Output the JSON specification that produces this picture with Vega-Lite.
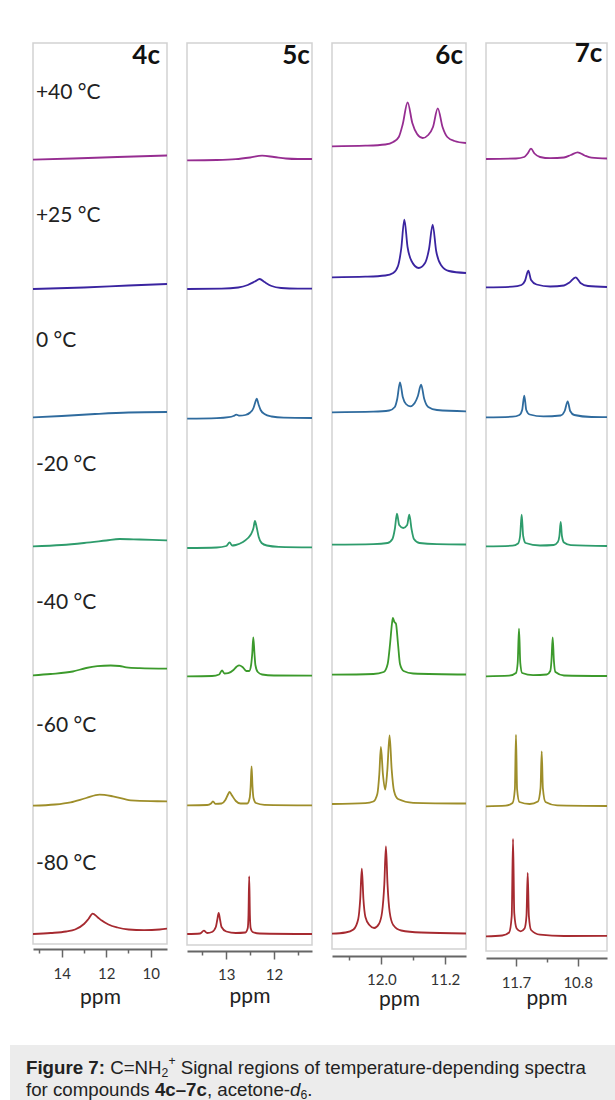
{
"$schema": "https://vega.github.io/schema/vega-lite/v6.json",
"padding": {"left": 10, "top": 40, "right": 0, "bottom": 0},
"background": "white",
"config": {
  "view": {"stroke": "#d2d2d2", "strokeWidth": 1.5},
  "font": "Lato",
  "axis": {"domainColor": "#666", "domainWidth": 2, "tickColor": "#666", "tickWidth": 1.5, "labelFont": "Lato", "labelFontSize": 15, "labelColor": "#333", "titleFont": "Lato", "titleFontSize": 21, "titleFontWeight": "normal", "titleColor": "#222", "grid": false, "labelOverlap": false, "labelFlush": false, "tickCount": 12}
},
"datasets": {
  "lab": [
    {"lab": "+40 °C", "ly": 851}, {"lab": "+25 °C", "ly": 727.7}, {"lab": "0 °C", "ly": 602.7}, {"lab": "-20 °C", "ly": 479.3},
    {"lab": "-40 °C", "ly": 341}, {"lab": "-60 °C", "ly": 217.7}, {"lab": "-80 °C", "ly": 80.3}
  ],
  "d4": [
    {"T":"+40","ppm":15.29,"y":784.3},{"T":"+40","ppm":13.5,"y":785.5},{"T":"+40","ppm":11.5,"y":787},{"T":"+40","ppm":9.27,"y":788.5},
    {"T":"+25","ppm":15.29,"y":655},{"T":"+25","ppm":13,"y":656.5},{"T":"+25","ppm":11,"y":658.5},{"T":"+25","ppm":9.27,"y":660},
    {"T":"0","ppm":15.29,"y":526.7},{"T":"0","ppm":14,"y":528},{"T":"0","ppm":12.5,"y":530},{"T":"0","ppm":11,"y":531.5},{"T":"0","ppm":9.27,"y":532},
    {"T":"-20","ppm":15.29,"y":397.7},{"T":"-20","ppm":14,"y":399},{"T":"-20","ppm":13,"y":401},{"T":"-20","ppm":12,"y":403.5},{"T":"-20","ppm":11.4,"y":405},{"T":"-20","ppm":10.5,"y":404.5},{"T":"-20","ppm":9.27,"y":403.7},
    {"T":"-40","ppm":15.29,"y":268.7},{"T":"-40","ppm":14.5,"y":270},{"T":"-40","ppm":13.5,"y":272.5},{"T":"-40","ppm":12.9,"y":276},{"T":"-40","ppm":12.4,"y":277.8},{"T":"-40","ppm":11.8,"y":278.5},{"T":"-40","ppm":11.4,"y":278},{"T":"-40","ppm":11.1,"y":276.6},{"T":"-40","ppm":10.5,"y":275.8},{"T":"-40","ppm":9.27,"y":275.3},
    {"T":"-60","ppm":15.29,"y":138.3},{"T":"-60","ppm":14.3,"y":139.5},{"T":"-60","ppm":13.6,"y":141.7},{"T":"-60","ppm":12.9,"y":146},{"T":"-60","ppm":12.3,"y":149.3},{"T":"-60","ppm":11.7,"y":147.7},{"T":"-60","ppm":10.9,"y":143.7},{"T":"-60","ppm":10,"y":142.8},{"T":"-60","ppm":9.27,"y":142.7},
    {"T":"-80","ppm":15.29,"y":10},{"T":"-80","ppm":14.5,"y":11},{"T":"-80","ppm":13.8,"y":12.5},{"T":"-80","ppm":13.4,"y":14.5},{"T":"-80","ppm":13.0,"y":20},{"T":"-80","ppm":12.8,"y":25},{"T":"-80","ppm":12.61,"y":30.3},{"T":"-80","ppm":12.4,"y":27},{"T":"-80","ppm":12.2,"y":23.5},{"T":"-80","ppm":11.9,"y":19.5},{"T":"-80","ppm":11.5,"y":16.5},{"T":"-80","ppm":11,"y":14.5},{"T":"-80","ppm":10.3,"y":13.8},{"T":"-80","ppm":9.6,"y":14.5},{"T":"-80","ppm":9.27,"y":15.3}
  ],
  "d5": [
    {"T":"+40","ppm":13.82,"y":784.7},{"T":"+40","ppm":13.2,"y":785},{"T":"+40","ppm":12.8,"y":785.8},{"T":"+40","ppm":12.5,"y":787.5},{"T":"+40","ppm":12.25,"y":789.3},{"T":"+40","ppm":12.0,"y":788},{"T":"+40","ppm":11.75,"y":786.5},{"T":"+40","ppm":11.5,"y":786},{"T":"+40","ppm":11.2,"y":786},
    {"T":"+25","ppm":13.82,"y":656},{"T":"+25","ppm":13.1,"y":656.3},{"T":"+25","ppm":12.75,"y":657.5},{"T":"+25","ppm":12.55,"y":660},{"T":"+25","ppm":12.4,"y":663.5},{"T":"+25","ppm":12.3,"y":666},{"T":"+25","ppm":12.2,"y":663},{"T":"+25","ppm":12.05,"y":659},{"T":"+25","ppm":11.85,"y":657},{"T":"+25","ppm":11.5,"y":656.3},{"T":"+25","ppm":11.2,"y":656.3},
    {"T":"0","ppm":13.82,"y":526.3},{"T":"0","ppm":13.2,"y":526.8},{"T":"0","ppm":12.95,"y":527.8},{"T":"0","ppm":12.85,"y":529},{"T":"0","ppm":12.79,"y":530.3},{"T":"0","ppm":12.72,"y":529.3},{"T":"0","ppm":12.6,"y":530},{"T":"0","ppm":12.5,"y":532.5},{"T":"0","ppm":12.43,"y":537},{"T":"0","ppm":12.4,"y":541.5},{"T":"0","ppm":12.363,"y":546.3},{"T":"0","ppm":12.32,"y":540},{"T":"0","ppm":12.28,"y":535},{"T":"0","ppm":12.2,"y":531},{"T":"0","ppm":12.05,"y":528.5},{"T":"0","ppm":11.8,"y":527.3},{"T":"0","ppm":11.2,"y":527},
    {"T":"-20","ppm":13.82,"y":397},{"T":"-20","ppm":13.2,"y":397.5},{"T":"-20","ppm":13.0,"y":399},{"T":"-20","ppm":12.93,"y":402.7},{"T":"-20","ppm":12.88,"y":399.5},{"T":"-20","ppm":12.8,"y":400},{"T":"-20","ppm":12.65,"y":403},{"T":"-20","ppm":12.545,"y":407},{"T":"-20","ppm":12.48,"y":411},{"T":"-20","ppm":12.43,"y":417},{"T":"-20","ppm":12.40,"y":424},{"T":"-20","ppm":12.36,"y":417},{"T":"-20","ppm":12.32,"y":408},{"T":"-20","ppm":12.26,"y":402},{"T":"-20","ppm":12.15,"y":399.5},{"T":"-20","ppm":11.9,"y":398.2},{"T":"-20","ppm":11.2,"y":397.7},
    {"T":"-40","ppm":13.82,"y":268.7},{"T":"-40","ppm":13.3,"y":269},{"T":"-40","ppm":13.15,"y":270.5},{"T":"-40","ppm":13.09,"y":274.7},{"T":"-40","ppm":13.04,"y":271.5},{"T":"-40","ppm":12.96,"y":271.8},{"T":"-40","ppm":12.85,"y":275},{"T":"-40","ppm":12.78,"y":278.5},{"T":"-40","ppm":12.73,"y":279.7},{"T":"-40","ppm":12.66,"y":278},{"T":"-40","ppm":12.58,"y":274},{"T":"-40","ppm":12.52,"y":274},{"T":"-40","ppm":12.48,"y":280},{"T":"-40","ppm":12.455,"y":292},{"T":"-40","ppm":12.434,"y":307.7},{"T":"-40","ppm":12.41,"y":292},{"T":"-40","ppm":12.39,"y":280},{"T":"-40","ppm":12.34,"y":273},{"T":"-40","ppm":12.25,"y":270.5},{"T":"-40","ppm":12.0,"y":269.5},{"T":"-40","ppm":11.2,"y":269.3},
    {"T":"-60","ppm":13.82,"y":139.7},{"T":"-60","ppm":13.4,"y":140},{"T":"-60","ppm":13.32,"y":141.5},{"T":"-60","ppm":13.28,"y":143.7},{"T":"-60","ppm":13.23,"y":141.2},{"T":"-60","ppm":13.1,"y":141.5},{"T":"-60","ppm":13.02,"y":145},{"T":"-60","ppm":12.97,"y":150},{"T":"-60","ppm":12.93,"y":153},{"T":"-60","ppm":12.88,"y":149.5},{"T":"-60","ppm":12.8,"y":144},{"T":"-60","ppm":12.7,"y":141.5},{"T":"-60","ppm":12.56,"y":141.5},{"T":"-60","ppm":12.51,"y":147},{"T":"-60","ppm":12.49,"y":158},{"T":"-60","ppm":12.47,"y":178.7},{"T":"-60","ppm":12.45,"y":158},{"T":"-60","ppm":12.43,"y":147},{"T":"-60","ppm":12.38,"y":142},{"T":"-60","ppm":12.2,"y":140.2},{"T":"-60","ppm":11.2,"y":139.7},
    {"T":"-80","ppm":13.82,"y":11},{"T":"-80","ppm":13.55,"y":11.5},{"T":"-80","ppm":13.47,"y":14.3},{"T":"-80","ppm":13.40,"y":12},{"T":"-80","ppm":13.3,"y":13},{"T":"-80","ppm":13.22,"y":18},{"T":"-80","ppm":13.19,"y":25},{"T":"-80","ppm":13.16,"y":32},{"T":"-80","ppm":13.13,"y":25},{"T":"-80","ppm":13.10,"y":18},{"T":"-80","ppm":13.0,"y":13.5},{"T":"-80","ppm":12.8,"y":12},{"T":"-80","ppm":12.6,"y":12.5},{"T":"-80","ppm":12.55,"y":17},{"T":"-80","ppm":12.535,"y":30},{"T":"-80","ppm":12.52,"y":68.7},{"T":"-80","ppm":12.505,"y":30},{"T":"-80","ppm":12.49,"y":17},{"T":"-80","ppm":12.45,"y":13},{"T":"-80","ppm":12.3,"y":11.5},{"T":"-80","ppm":11.2,"y":11}
  ],
  "d6": [
    {"T":"+40","ppm":12.62,"y":802.7},{"T":"+40","ppm":12.2,"y":803.3},{"T":"+40","ppm":11.95,"y":804.5},{"T":"+40","ppm":11.85,"y":807},{"T":"+40","ppm":11.78,"y":812},{"T":"+40","ppm":11.73,"y":825},{"T":"+40","ppm":11.669,"y":846.7},{"T":"+40","ppm":11.61,"y":826},{"T":"+40","ppm":11.55,"y":815},{"T":"+40","ppm":11.48,"y":811},{"T":"+40","ppm":11.41,"y":814},{"T":"+40","ppm":11.35,"y":822},{"T":"+40","ppm":11.29,"y":840.7},{"T":"+40","ppm":11.23,"y":822},{"T":"+40","ppm":11.17,"y":812},{"T":"+40","ppm":11.08,"y":808},{"T":"+40","ppm":10.935,"y":806},
    {"T":"+25","ppm":12.62,"y":671.7},{"T":"+25","ppm":12.2,"y":672.3},{"T":"+25","ppm":11.95,"y":673.5},{"T":"+25","ppm":11.85,"y":676},{"T":"+25","ppm":11.79,"y":683},{"T":"+25","ppm":11.75,"y":700},{"T":"+25","ppm":11.71,"y":729.3},{"T":"+25","ppm":11.67,"y":702},{"T":"+25","ppm":11.62,"y":688},{"T":"+25","ppm":11.53,"y":681},{"T":"+25","ppm":11.45,"y":686},{"T":"+25","ppm":11.40,"y":700},{"T":"+25","ppm":11.354,"y":724.3},{"T":"+25","ppm":11.31,"y":698},{"T":"+25","ppm":11.25,"y":684},{"T":"+25","ppm":11.15,"y":678},{"T":"+25","ppm":10.935,"y":676},
    {"T":"0","ppm":12.62,"y":536.7},{"T":"0","ppm":12.1,"y":537.3},{"T":"0","ppm":11.9,"y":538.5},{"T":"0","ppm":11.83,"y":542},{"T":"0","ppm":11.80,"y":550},{"T":"0","ppm":11.765,"y":566.7},{"T":"0","ppm":11.73,"y":552},{"T":"0","ppm":11.69,"y":545},{"T":"0","ppm":11.635,"y":542.7},{"T":"0","ppm":11.58,"y":546},{"T":"0","ppm":11.54,"y":553},{"T":"0","ppm":11.50,"y":564.3},{"T":"0","ppm":11.46,"y":550},{"T":"0","ppm":11.41,"y":542},{"T":"0","ppm":11.3,"y":539},{"T":"0","ppm":10.935,"y":537.7},
    {"T":"-20","ppm":12.62,"y":404.3},{"T":"-20","ppm":12.1,"y":404.8},{"T":"-20","ppm":11.92,"y":406},{"T":"-20","ppm":11.86,"y":410},{"T":"-20","ppm":11.83,"y":420},{"T":"-20","ppm":11.803,"y":435.3},{"T":"-20","ppm":11.775,"y":424},{"T":"-20","ppm":11.724,"y":421},{"T":"-20","ppm":11.675,"y":424},{"T":"-20","ppm":11.648,"y":434.3},{"T":"-20","ppm":11.62,"y":420},{"T":"-20","ppm":11.59,"y":410},{"T":"-20","ppm":11.52,"y":406},{"T":"-20","ppm":11.3,"y":404.8},{"T":"-20","ppm":10.935,"y":404.5},
    {"T":"-40","ppm":12.62,"y":274.3},{"T":"-40","ppm":12.1,"y":275},{"T":"-40","ppm":11.97,"y":277},{"T":"-40","ppm":11.92,"y":285},{"T":"-40","ppm":11.89,"y":305},{"T":"-40","ppm":11.865,"y":326},{"T":"-40","ppm":11.854,"y":331},{"T":"-40","ppm":11.835,"y":327},{"T":"-40","ppm":11.816,"y":325.3},{"T":"-40","ppm":11.79,"y":305},{"T":"-40","ppm":11.765,"y":285},{"T":"-40","ppm":11.72,"y":278},{"T":"-40","ppm":11.6,"y":275.5},{"T":"-40","ppm":10.935,"y":274.5},
    {"T":"-60","ppm":12.62,"y":145},{"T":"-60","ppm":12.2,"y":145.8},{"T":"-60","ppm":12.1,"y":147.5},{"T":"-60","ppm":12.05,"y":155},{"T":"-60","ppm":12.025,"y":175},{"T":"-60","ppm":12.005,"y":202},{"T":"-60","ppm":11.98,"y":175},{"T":"-60","ppm":11.951,"y":159.3},{"T":"-60","ppm":11.925,"y":178},{"T":"-60","ppm":11.896,"y":213.7},{"T":"-60","ppm":11.87,"y":180},{"T":"-60","ppm":11.84,"y":158},{"T":"-60","ppm":11.79,"y":150},{"T":"-60","ppm":11.6,"y":146.2},{"T":"-60","ppm":10.935,"y":145.5},
    {"T":"-80","ppm":12.62,"y":15.3},{"T":"-80","ppm":12.45,"y":16.5},{"T":"-80","ppm":12.35,"y":19.5},{"T":"-80","ppm":12.29,"y":30},{"T":"-80","ppm":12.265,"y":50},{"T":"-80","ppm":12.245,"y":80.3},{"T":"-80","ppm":12.225,"y":50},{"T":"-80","ppm":12.2,"y":32},{"T":"-80","ppm":12.15,"y":24},{"T":"-80","ppm":12.09,"y":21},{"T":"-80","ppm":12.03,"y":25},{"T":"-80","ppm":11.99,"y":37},{"T":"-80","ppm":11.962,"y":65},{"T":"-80","ppm":11.942,"y":102.7},{"T":"-80","ppm":11.922,"y":65},{"T":"-80","ppm":11.895,"y":37},{"T":"-80","ppm":11.85,"y":24},{"T":"-80","ppm":11.75,"y":18.5},{"T":"-80","ppm":11.5,"y":16.5},{"T":"-80","ppm":10.935,"y":15.5}
  ],
  "d7": [
    {"T":"+40","ppm":12.137,"y":792},{"T":"+40","ppm":11.7,"y":792.5},{"T":"+40","ppm":11.58,"y":794},{"T":"+40","ppm":11.53,"y":797.5},{"T":"+40","ppm":11.481,"y":802.3},{"T":"+40","ppm":11.43,"y":797.5},{"T":"+40","ppm":11.35,"y":794},{"T":"+40","ppm":11.2,"y":792.8},{"T":"+40","ppm":11.0,"y":793.5},{"T":"+40","ppm":10.9,"y":796},{"T":"+40","ppm":10.8,"y":798.7},{"T":"+40","ppm":10.7,"y":795.5},{"T":"+40","ppm":10.6,"y":793.3},{"T":"+40","ppm":10.373,"y":792.5},
    {"T":"+25","ppm":12.137,"y":663.7},{"T":"+25","ppm":11.75,"y":664.3},{"T":"+25","ppm":11.62,"y":666},{"T":"+25","ppm":11.57,"y":670},{"T":"+25","ppm":11.52,"y":680.3},{"T":"+25","ppm":11.48,"y":671},{"T":"+25","ppm":11.4,"y":666.5},{"T":"+25","ppm":11.2,"y":664.5},{"T":"+25","ppm":11.0,"y":665.5},{"T":"+25","ppm":10.92,"y":668.5},{"T":"+25","ppm":10.83,"y":673.7},{"T":"+25","ppm":10.76,"y":668},{"T":"+25","ppm":10.65,"y":665},{"T":"+25","ppm":10.373,"y":664},
    {"T":"0","ppm":12.137,"y":533.7},{"T":"0","ppm":11.75,"y":534.3},{"T":"0","ppm":11.65,"y":536},{"T":"0","ppm":11.61,"y":541},{"T":"0","ppm":11.579,"y":555.3},{"T":"0","ppm":11.55,"y":541},{"T":"0","ppm":11.5,"y":536.5},{"T":"0","ppm":11.3,"y":534.6},{"T":"0","ppm":11.05,"y":535.5},{"T":"0","ppm":10.99,"y":540},{"T":"0","ppm":10.946,"y":549.7},{"T":"0","ppm":10.91,"y":540},{"T":"0","ppm":10.85,"y":536},{"T":"0","ppm":10.6,"y":534},{"T":"0","ppm":10.373,"y":533.8},
    {"T":"-20","ppm":12.137,"y":404.7},{"T":"-20","ppm":11.75,"y":405.3},{"T":"-20","ppm":11.67,"y":407.5},{"T":"-20","ppm":11.64,"y":415},{"T":"-20","ppm":11.617,"y":436.3},{"T":"-20","ppm":11.595,"y":415},{"T":"-20","ppm":11.56,"y":408},{"T":"-20","ppm":11.35,"y":405.5},{"T":"-20","ppm":11.15,"y":406},{"T":"-20","ppm":11.09,"y":409},{"T":"-20","ppm":11.067,"y":415},{"T":"-20","ppm":11.048,"y":429},{"T":"-20","ppm":11.03,"y":415},{"T":"-20","ppm":11.0,"y":408.5},{"T":"-20","ppm":10.9,"y":405.8},{"T":"-20","ppm":10.373,"y":405},
    {"T":"-40","ppm":12.137,"y":274.7},{"T":"-40","ppm":11.8,"y":275.3},{"T":"-40","ppm":11.7,"y":278},{"T":"-40","ppm":11.675,"y":288},{"T":"-40","ppm":11.656,"y":322.3},{"T":"-40","ppm":11.637,"y":288},{"T":"-40","ppm":11.61,"y":278},{"T":"-40","ppm":11.45,"y":275.8},{"T":"-40","ppm":11.25,"y":276.5},{"T":"-40","ppm":11.2,"y":280},{"T":"-40","ppm":11.183,"y":290},{"T":"-40","ppm":11.165,"y":313.7},{"T":"-40","ppm":11.147,"y":290},{"T":"-40","ppm":11.125,"y":279},{"T":"-40","ppm":11.0,"y":275.5},{"T":"-40","ppm":10.373,"y":275},
    {"T":"-60","ppm":12.137,"y":144.7},{"T":"-60","ppm":11.85,"y":145.3},{"T":"-60","ppm":11.75,"y":148},{"T":"-60","ppm":11.716,"y":162},{"T":"-60","ppm":11.70,"y":216.3},{"T":"-60","ppm":11.684,"y":162},{"T":"-60","ppm":11.65,"y":149},{"T":"-60","ppm":11.5,"y":147},{"T":"-60","ppm":11.38,"y":149.5},{"T":"-60","ppm":11.342,"y":163},{"T":"-60","ppm":11.325,"y":199.7},{"T":"-60","ppm":11.308,"y":163},{"T":"-60","ppm":11.27,"y":149},{"T":"-60","ppm":11.1,"y":145.6},{"T":"-60","ppm":10.373,"y":145},
    {"T":"-80","ppm":12.137,"y":14.7},{"T":"-80","ppm":11.9,"y":15.5},{"T":"-80","ppm":11.8,"y":18.5},{"T":"-80","ppm":11.762,"y":35},{"T":"-80","ppm":11.743,"y":112},{"T":"-80","ppm":11.725,"y":38},{"T":"-80","ppm":11.69,"y":22.5},{"T":"-80","ppm":11.631,"y":19.7},{"T":"-80","ppm":11.575,"y":22.5},{"T":"-80","ppm":11.547,"y":35},{"T":"-80","ppm":11.529,"y":78},{"T":"-80","ppm":11.512,"y":35},{"T":"-80","ppm":11.48,"y":21},{"T":"-80","ppm":11.35,"y":16.3},{"T":"-80","ppm":11.0,"y":15},{"T":"-80","ppm":10.373,"y":15.2}
  ]
},
"spacing": 35,
"vconcat": [
  {
    "spacing": 20,
    "bounds": "flush",
    "hconcat": [
      {
        "width": 3, "height": 901,
        "view": {"stroke": null},
        "data": {"values": [{}]},
        "mark": {"type": "text"},
        "encoding": {"text": {"value": ""}}
      },
      {
        "width": 134, "height": 901,
        "layer": [
          {"data": {"name": "d4"},
           "mark": {"type": "line", "interpolate": "monotone", "strokeWidth": 1.8, "clip": true},
           "encoding": {
             "x": {"field": "ppm", "type": "quantitative", "scale": {"domain": [9.27, 15.29], "reverse": true, "nice": false, "zero": false},
                   "axis": {"values": [15, 14, 13, 12, 11, 10], "tickCount": 12, "format": "d", "labelOverlap": false, "labelExpr": "datum.value % 2 === 0 ? datum.label : ''", "tickSize": {"condition": {"test": "datum.value % 2 === 0", "value": 8}, "value": 4}, "title": "ppm", "offset": 5, "labelPadding": 9, "titlePadding": 5}},
             "y": {"field": "y", "type": "quantitative", "scale": {"domain": [0, 901], "nice": false, "zero": false}, "axis": null},
             "color": {"field": "T", "type": "nominal", "scale": {"domain": ["+40", "+25", "0", "-20", "-40", "-60", "-80"], "range": ["#962d91", "#3a24a0", "#2f6b9e", "#2e9c6c", "#3c9a2c", "#9e8e2a", "#a62a30"]}, "legend": null}
           }},
          {"data": {"name": "lab"},
           "mark": {"type": "text", "font": "Lato", "fontSize": 21, "align": "left", "baseline": "middle", "color": "#222"},
           "encoding": {"x": {"datum": 15.16, "type": "quantitative"}, "y": {"field": "ly", "type": "quantitative"}, "text": {"field": "lab"}}},
          {"data": {"values": [{"n": "4c"}]},
           "mark": {"type": "text", "font": "Lato", "fontWeight": "bold", "fontSize": 26, "align": "right", "baseline": "middle", "color": "#111"},
           "encoding": {"x": {"datum": 9.585, "type": "quantitative"}, "y": {"datum": 888.5, "type": "quantitative"}, "text": {"field": "n"}}}
        ]
      },
      {
        "width": 125, "height": 902,
        "layer": [
          {"data": {"name": "d5"},
           "mark": {"type": "line", "interpolate": "monotone", "strokeWidth": 1.8, "clip": true},
           "encoding": {
             "x": {"field": "ppm", "type": "quantitative", "scale": {"domain": [11.203, 13.824], "reverse": true, "nice": false, "zero": false},
                   "axis": {"values": [13.5, 13, 12.5, 12, 11.5], "tickCount": 12, "labelOverlap": false, "labelFlush": false, "labelExpr": "(datum.value == 13 || datum.value == 12) ? format(datum.value, 'd') : ''", "tickSize": {"condition": {"test": "datum.value == 13 || datum.value == 12", "value": 8}, "value": 4}, "title": "ppm", "offset": 6, "labelPadding": 8, "titlePadding": 3}},
             "y": {"field": "y", "type": "quantitative", "scale": {"domain": [0, 902], "nice": false, "zero": false}, "axis": null},
             "color": {"field": "T", "type": "nominal", "scale": {"domain": ["+40", "+25", "0", "-20", "-40", "-60", "-80"], "range": ["#962d91", "#3a24a0", "#2f6b9e", "#2e9c6c", "#3c9a2c", "#9e8e2a", "#a62a30"]}, "legend": null}
           }},
          {"data": {"values": [{"n": "5c"}]},
           "mark": {"type": "text", "font": "Lato", "fontWeight": "bold", "fontSize": 26, "align": "right", "baseline": "middle", "color": "#111"},
           "encoding": {"x": {"datum": 11.25, "type": "quantitative"}, "y": {"datum": 889.5, "type": "quantitative"}, "text": {"field": "n"}}}
        ]
      },
      {
        "width": 134, "height": 906,
        "layer": [
          {"data": {"name": "d6"},
           "mark": {"type": "line", "interpolate": "monotone", "strokeWidth": 1.8, "clip": true},
           "encoding": {
             "x": {"field": "ppm", "type": "quantitative", "scale": {"domain": [10.935, 12.62], "reverse": true, "nice": false, "zero": false},
                   "axis": {"values": [12.4, 12.0, 11.6, 11.2], "tickCount": 12, "labelOverlap": false, "format": ".1f", "labelExpr": "round(datum.value * 10) % 8 === 0 ? datum.label : ''", "tickSize": {"condition": {"test": "round(datum.value * 10) % 8 === 0", "value": 8}, "value": 4}, "title": "ppm", "offset": 7, "labelPadding": 8, "titlePadding": 1}},
             "y": {"field": "y", "type": "quantitative", "scale": {"domain": [0, 906], "nice": false, "zero": false}, "axis": null},
             "color": {"field": "T", "type": "nominal", "scale": {"domain": ["+40", "+25", "0", "-20", "-40", "-60", "-80"], "range": ["#962d91", "#3a24a0", "#2f6b9e", "#2e9c6c", "#3c9a2c", "#9e8e2a", "#a62a30"]}, "legend": null}
           }},
          {"data": {"values": [{"n": "6c"}]},
           "mark": {"type": "text", "font": "Lato", "fontWeight": "bold", "fontSize": 26, "align": "right", "baseline": "middle", "color": "#111"},
           "encoding": {"x": {"datum": 10.973, "type": "quantitative"}, "y": {"datum": 892.7, "type": "quantitative"}, "text": {"field": "n"}}}
        ]
      },
      {
        "width": 121, "height": 908,
        "layer": [
          {"data": {"name": "d7"},
           "mark": {"type": "line", "interpolate": "monotone", "strokeWidth": 1.8, "clip": true},
           "encoding": {
             "x": {"field": "ppm", "type": "quantitative", "scale": {"domain": [10.373, 12.137], "reverse": true, "nice": false, "zero": false},
                   "axis": {"values": [11.7, 11.25, 10.8], "tickCount": 12, "labelOverlap": false, "format": ".1f", "labelExpr": "abs(datum.value - 11.25) > 0.01 ? datum.label : ''", "tickSize": {"condition": {"test": "abs(datum.value - 11.25) > 0.01", "value": 8}, "value": 4}, "title": "ppm", "offset": 7, "labelPadding": 9, "titlePadding": -3}},
             "y": {"field": "y", "type": "quantitative", "scale": {"domain": [0, 908], "nice": false, "zero": false}, "axis": null},
             "color": {"field": "T", "type": "nominal", "scale": {"domain": ["+40", "+25", "0", "-20", "-40", "-60", "-80"], "range": ["#962d91", "#3a24a0", "#2f6b9e", "#2e9c6c", "#3c9a2c", "#9e8e2a", "#a62a30"]}, "legend": null}
           }},
          {"data": {"values": [{"n": "7c"}]},
           "mark": {"type": "text", "font": "Lato", "fontWeight": "bold", "fontSize": 26, "align": "right", "baseline": "middle", "color": "#111"},
           "encoding": {"x": {"datum": 10.44, "type": "quantitative"}, "y": {"datum": 896.8, "type": "quantitative"}, "text": {"field": "n"}}}
        ]
      }
    ]
  },
  {
    "width": 605, "height": 60,
    "view": {"fill": "#ececec", "stroke": null},
    "data": {"values": [{}]},
    "layer": [
      {"mark": {"type": "text", "font": "Liberation Sans", "fontSize": 18.7, "fontWeight": "bold", "align": "left", "baseline": "middle", "color": "#222"},
       "encoding": {"x": {"datum": 16, "type": "quantitative", "scale": {"domain": [0, 605], "nice": false, "zero": false}, "axis": null},
                    "y": {"datum": 23, "type": "quantitative", "scale": {"domain": [0, 60], "reverse": true, "nice": false, "zero": false}, "axis": null},
                    "text": {"value": "Figure 7:"}}},
      {"mark": {"type": "text", "font": "Liberation Sans", "fontSize": 18.7, "align": "left", "baseline": "middle", "color": "#222"},
       "encoding": {"x": {"datum": 100.2, "type": "quantitative"}, "y": {"datum": 23, "type": "quantitative"}, "text": {"value": "C=NH"}}},
      {"mark": {"type": "text", "font": "Liberation Sans", "fontSize": 12.2, "align": "left", "baseline": "middle", "color": "#222"},
       "encoding": {"x": {"datum": 151.6, "type": "quantitative"}, "y": {"datum": 28, "type": "quantitative"}, "text": {"value": "2"}}},
      {"mark": {"type": "text", "font": "Liberation Sans", "fontSize": 12.2, "align": "left", "baseline": "middle", "color": "#222"},
       "encoding": {"x": {"datum": 158.4, "type": "quantitative"}, "y": {"datum": 16, "type": "quantitative"}, "text": {"value": "+"}}},
      {"mark": {"type": "text", "font": "Liberation Sans", "fontSize": 18.7, "align": "left", "baseline": "middle", "color": "#222"},
       "encoding": {"x": {"datum": 170.7, "type": "quantitative"}, "y": {"datum": 23, "type": "quantitative"}, "text": {"value": "Signal regions of temperature-depending spectra"}}},
      {"mark": {"type": "text", "font": "Liberation Sans", "fontSize": 18.7, "align": "left", "baseline": "middle", "color": "#222"},
       "encoding": {"x": {"datum": 16, "type": "quantitative"}, "y": {"datum": 45, "type": "quantitative"}, "text": {"value": "for compounds"}}},
      {"mark": {"type": "text", "font": "Liberation Sans", "fontSize": 18.7, "fontWeight": "bold", "align": "left", "baseline": "middle", "color": "#222"},
       "encoding": {"x": {"datum": 144.9, "type": "quantitative"}, "y": {"datum": 45, "type": "quantitative"}, "text": {"value": "4c–7c"}}},
      {"mark": {"type": "text", "font": "Liberation Sans", "fontSize": 18.7, "align": "left", "baseline": "middle", "color": "#222"},
       "encoding": {"x": {"datum": 196.9, "type": "quantitative"}, "y": {"datum": 45, "type": "quantitative"}, "text": {"value": ", acetone-"}}},
      {"mark": {"type": "text", "font": "Liberation Sans", "fontSize": 18.7, "fontStyle": "italic", "align": "left", "baseline": "middle", "color": "#222"},
       "encoding": {"x": {"datum": 280.1, "type": "quantitative"}, "y": {"datum": 45, "type": "quantitative"}, "text": {"value": "d"}}},
      {"mark": {"type": "text", "font": "Liberation Sans", "fontSize": 12.2, "align": "left", "baseline": "middle", "color": "#222"},
       "encoding": {"x": {"datum": 290.5, "type": "quantitative"}, "y": {"datum": 50, "type": "quantitative"}, "text": {"value": "6"}}},
      {"mark": {"type": "text", "font": "Liberation Sans", "fontSize": 18.7, "align": "left", "baseline": "middle", "color": "#222"},
       "encoding": {"x": {"datum": 297.3, "type": "quantitative"}, "y": {"datum": 45, "type": "quantitative"}, "text": {"value": "."}}}
    ]
  }
]
}
